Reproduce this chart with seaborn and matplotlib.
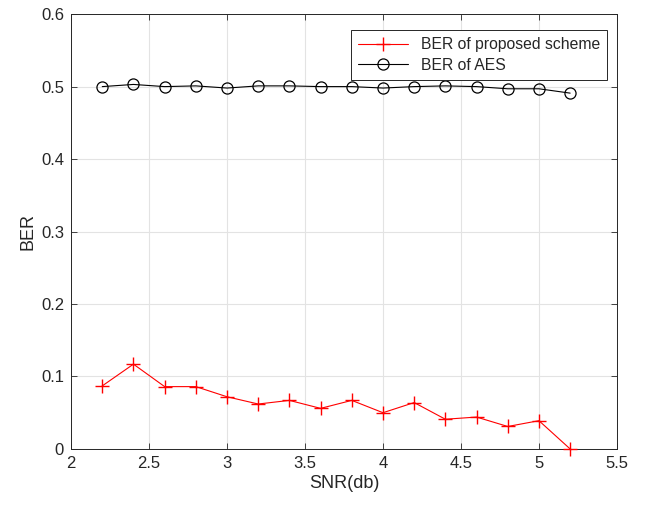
import matplotlib
matplotlib.use("Agg")
import matplotlib.pyplot as plt
import numpy as np
import pandas as pd
import seaborn as sns

snr = [2.2, 2.4, 2.6, 2.8, 3.0, 3.2, 3.4, 3.6, 3.8, 4.0, 4.2, 4.4, 4.6, 4.8, 5.0, 5.2]
ber_proposed = [0.087, 0.117, 0.086, 0.086, 0.072, 0.062, 0.067, 0.056, 0.067, 0.050,
                0.064, 0.041, 0.044, 0.031, 0.039, 0.000]
ber_aes = [0.500, 0.503, 0.500, 0.501, 0.498, 0.501, 0.501, 0.500, 0.500, 0.498,
           0.500, 0.501, 0.500, 0.497, 0.497, 0.491]

x_ticks = [2, 2.5, 3, 3.5, 4, 4.5, 5, 5.5]
x_tick_labels = ["2", "2.5", "3", "3.5", "4", "4.5", "5", "5.5"]
y_ticks = [0, 0.1, 0.2, 0.3, 0.4, 0.5, 0.6]
y_tick_labels = ["0", "0.1", "0.2", "0.3", "0.4", "0.5", "0.6"]

sns.set_style("whitegrid")
plt.rcParams["font.family"] = ["Liberation Sans", "DejaVu Sans"]

df = pd.DataFrame({"snr": snr, "proposed": ber_proposed, "aes": ber_aes})

fig = plt.figure(figsize=(6.46, 5.05), dpi=100)
ax = fig.add_axes([0.110, 0.111, 0.845, 0.861])

sns.lineplot(data=df, x="snr", y="proposed", ax=ax, color="red", linewidth=0.8,
             marker="+", markersize=10, markeredgewidth=1.0, markeredgecolor="red",
             label="BER of proposed scheme", clip_on=False, zorder=3)
sns.lineplot(data=df, x="snr", y="aes", ax=ax, color="black", linewidth=0.8,
             marker="o", markersize=8, markerfacecolor="none",
             markeredgecolor="black", markeredgewidth=0.9,
             label="BER of AES", zorder=3)

ax.set_xlim(2, 5.5)
ax.set_ylim(0, 0.6)
ax.set_xticks(x_ticks)
ax.set_xticklabels(x_tick_labels)
ax.set_yticks(y_ticks)
ax.set_yticklabels(y_tick_labels)
ax.set_xlabel("SNR(db)", fontsize=13, color="#262626", labelpad=3)
ax.set_ylabel("BER", fontsize=13, color="#262626", labelpad=3)

ax.grid(True, color="#e3e3e3", linewidth=0.8)
ax.tick_params(axis="both", direction="in", length=4, width=0.6, colors="#262626",
               labelsize=12, top=True, right=True, bottom=True, left=True, pad=5)
for spine in ax.spines.values():
    spine.set_visible(True)
    spine.set_color("#262626")
    spine.set_linewidth(0.7)

leg = ax.legend(loc="upper right", bbox_to_anchor=(0.982, 0.963), borderaxespad=0,
                fontsize=11.3, frameon=True, fancybox=False, edgecolor="#262626",
                framealpha=1, borderpad=0.45, handlelength=3.2, labelspacing=0.35)
leg.get_frame().set_linewidth(0.7)
leg.set_zorder(5)

fig.savefig("out.png", dpi=100)
